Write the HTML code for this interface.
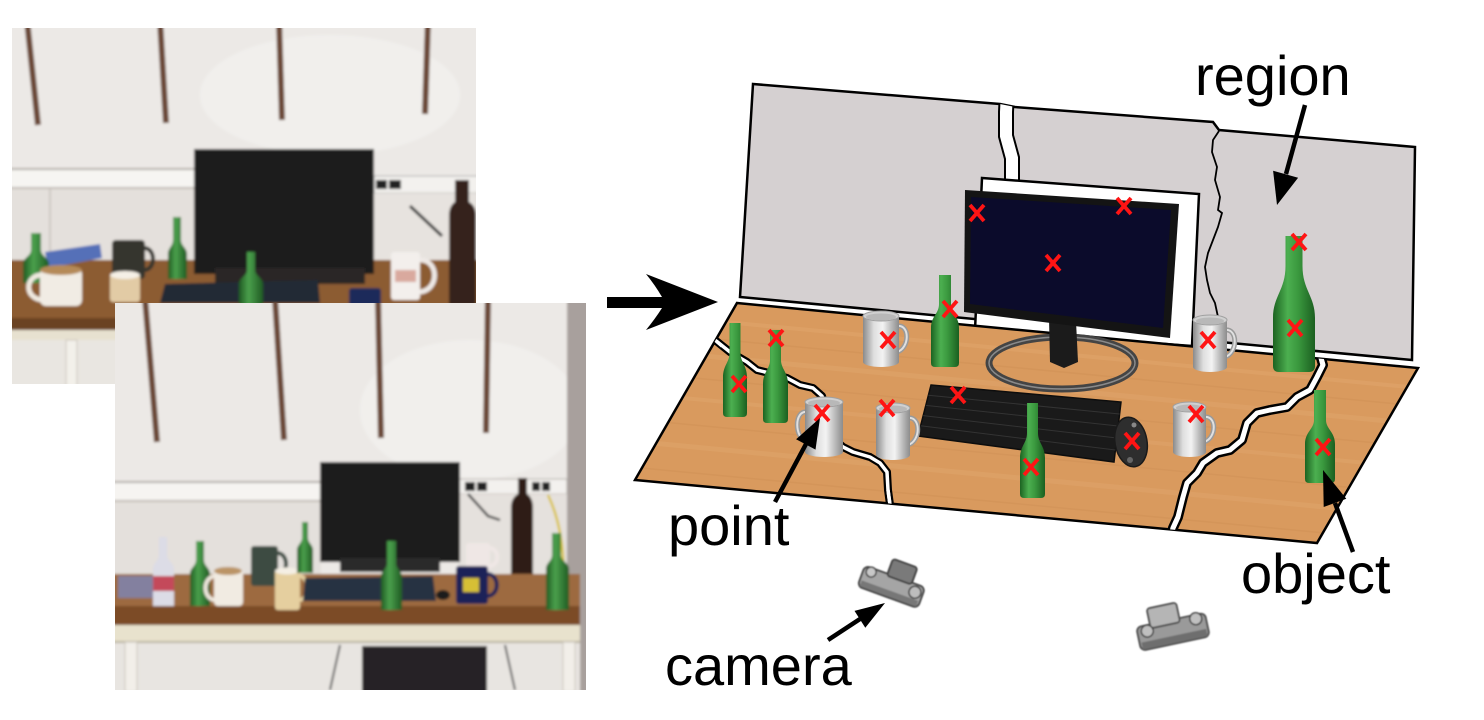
<!DOCTYPE html>
<html><head><meta charset="utf-8">
<style>
html,body{margin:0;padding:0;background:#fff;}
svg{display:block;}
text{font-family:"Liberation Sans",Arial,sans-serif;fill:#000;}
</style></head><body>
<svg width="1484" height="720" viewBox="0 0 1484 720" xmlns="http://www.w3.org/2000/svg">
<defs>
 <linearGradient id="gb" x1="0" x2="1" y1="0" y2="0">
  <stop offset="0" stop-color="#1c6321"/><stop offset="0.35" stop-color="#4caf50"/><stop offset="0.6" stop-color="#3a983e"/><stop offset="1" stop-color="#1b5f20"/>
 </linearGradient>
 <linearGradient id="gm" x1="0" x2="1" y1="0" y2="0">
  <stop offset="0" stop-color="#8a8a8a"/><stop offset="0.3" stop-color="#dedede"/><stop offset="0.55" stop-color="#f3f3f3"/><stop offset="0.8" stop-color="#b8b8b8"/><stop offset="1" stop-color="#8c8c8c"/>
 </linearGradient>
 <linearGradient id="gpb" x1="0" x2="1" y1="0" y2="0">
  <stop offset="0" stop-color="#1f5a22"/><stop offset="0.4" stop-color="#4aa04c"/><stop offset="1" stop-color="#1f5a22"/>
 </linearGradient>
 <clipPath id="ctable"><polygon points="737,303 1418,368 1317,543 635,480"/></clipPath>
 <clipPath id="cwall"><polygon points="753,84 1000,104 1015,107 1213,122 1219,130 1415,147 1412,360 740,297"/></clipPath>
 <clipPath id="cp1"><rect x="12" y="28" width="464" height="356"/></clipPath>
 <clipPath id="cp2"><rect x="115" y="303" width="471" height="387"/></clipPath>
 <filter id="bl" x="-5%" y="-5%" width="110%" height="110%"><feGaussianBlur stdDeviation="1.3"/></filter>
 <filter id="bl2"><feGaussianBlur stdDeviation="0.8"/></filter>
</defs>

<!-- ============ PHOTO 1 ============ -->
<g clip-path="url(#cp1)"><g filter="url(#bl)">
 <rect x="0" y="20" width="490" height="380" fill="#ece9e6"/>
 <ellipse cx="330" cy="95" rx="130" ry="60" fill="#f1efec"/>
 <g stroke="#6a4636" stroke-width="6">
  <line x1="27" y1="20" x2="38" y2="125"/>
  <line x1="160" y1="20" x2="166" y2="123"/>
  <line x1="279" y1="20" x2="282" y2="120"/>
  <line x1="428" y1="20" x2="425" y2="114"/>
 </g>
 <rect x="0" y="169" width="194" height="19" fill="#f6f5f2"/>
 <line x1="0" y1="169" x2="194" y2="169" stroke="#b4aea9" stroke-width="2"/>
 <line x1="0" y1="188" x2="194" y2="188" stroke="#c2bcb6" stroke-width="2"/>
 <rect x="0" y="189" width="194" height="75" fill="#e4e0dc"/>
 <line x1="50" y1="189" x2="50" y2="262" stroke="#cdc8c3" stroke-width="2"/>
 <rect x="374" y="176" width="110" height="17" fill="#f3f1ee" stroke="#aaa" stroke-width="1"/>
 <rect x="376" y="180" width="11" height="9" fill="#222"/>
 <rect x="389" y="180" width="12" height="9" fill="#222"/>
 <rect x="374" y="193" width="110" height="72" fill="#e7e3df"/>
 <line x1="410" y1="206" x2="442" y2="236" stroke="#333" stroke-width="3"/>
 <!-- table -->
 <rect x="0" y="260" width="490" height="60" fill="#8c5b31"/>
 <rect x="0" y="318" width="490" height="12" fill="#6b4322"/>
 <rect x="0" y="330" width="490" height="10" fill="#e7e1d0"/>
 <rect x="0" y="340" width="490" height="50" fill="#e9e6e1"/>
 <rect x="66" y="340" width="11" height="50" fill="#f3f0ea" stroke="#c9c3b9"/>
 <rect x="190" y="345" width="100" height="40" fill="#dcd8d2"/>
 <!-- monitor -->
 <rect x="194" y="149" width="180" height="125" fill="#1d1a1a"/>
 <rect x="215" y="268" width="150" height="16" fill="#2a2828"/>
 <!-- dark bottle -->
 <path d="M455,180 h14 v22 q7,4 7,14 V305 H449 V216 q0,-10 6,-14 z" fill="#35201a"/>
 <!-- objects -->
 <polygon points="45,252 100,244 102,258 48,268" fill="#5570b8"/>
 <path d="M31,233 L41,233 L41,250 C41,256 49,258 49,264 L49,283 L23,283 L23,264 C23,258 31,256 31,250 Z" fill="url(#gpb)"/>
 <path d="M42,275 C24,275 24,300 44,300" stroke="#efe9e0" stroke-width="5" fill="none"/>
 <rect x="40" y="268" width="42" height="38" rx="6" fill="#f1ece4"/>
 <ellipse cx="61" cy="270" rx="21" ry="5" fill="#b58a58"/>
 <rect x="112" y="240" width="33" height="39" rx="4" fill="#35352f"/>
 <path d="M144,248 C156,248 156,270 144,270" stroke="#35352f" stroke-width="4" fill="none"/>
 <rect x="110" y="274" width="30" height="28" rx="3" fill="#e2cba5"/>
 <ellipse cx="125" cy="275" rx="15" ry="4" fill="#f5f0e6"/>
 <path d="M173,217 L181,217 L181,240 C181,246 187,248 187,254 L187,279 L168,279 L168,254 C168,248 173,246 173,240 Z" fill="url(#gpb)"/>
 <polygon points="165,284 318,280 320,303 160,303" fill="#242a34"/>
 <path d="M247,252 L255,252 L255,270 C255,276 263,278 263,284 L263,305 L239,305 L239,284 C239,278 247,276 247,270 Z" fill="url(#gpb)"/>
 <path d="M418,260 C440,258 440,292 418,292" stroke="#eee9e6" stroke-width="5" fill="none"/>
 <rect x="391" y="252" width="29" height="48" rx="3" fill="#f3efec"/>
 <rect x="395" y="270" width="21" height="12" fill="#c87a6a" opacity="0.6"/>
 <rect x="349" y="288" width="32" height="20" rx="3" fill="#1d2a5a"/>
</g></g>

<!-- ============ PHOTO 2 ============ -->
<g clip-path="url(#cp2)"><g filter="url(#bl)">
 <rect x="110" y="298" width="481" height="397" fill="#ece9e6"/>
 <ellipse cx="470" cy="410" rx="110" ry="70" fill="#f1efec"/>
 <rect x="567" y="298" width="25" height="397" fill="#a8a09d"/>
 <g stroke="#6a4636" stroke-width="6">
  <line x1="145" y1="298" x2="157" y2="442"/>
  <line x1="275" y1="298" x2="284" y2="440"/>
  <line x1="378" y1="298" x2="381" y2="438"/>
  <line x1="488" y1="298" x2="486" y2="433"/>
 </g>
 <rect x="110" y="482" width="211" height="20" fill="#f6f4f1"/>
 <line x1="110" y1="482" x2="321" y2="482" stroke="#b4aea9" stroke-width="2"/>
 <line x1="110" y1="501" x2="321" y2="501" stroke="#c2bcb6" stroke-width="2"/>
 <rect x="110" y="502" width="211" height="75" fill="#e4e0dc"/>
 <rect x="458" y="479" width="109" height="15" fill="#f3f1ee" stroke="#b0aaa5" stroke-width="1"/>
 <rect x="465" y="482" width="10" height="9" fill="#222"/>
 <rect x="477" y="482" width="10" height="9" fill="#222"/>
 <rect x="532" y="482" width="8" height="9" fill="#222"/>
 <rect x="542" y="482" width="8" height="9" fill="#222"/>
 <rect x="458" y="494" width="109" height="82" fill="#e5e1dd"/>
 <path d="M468,494 L488,516 L500,520" stroke="#444" stroke-width="2.5" fill="none"/>
 <path d="M548,495 C560,520 568,560 560,600" stroke="#d9c238" stroke-width="2.5" fill="none"/>
 <rect x="320" y="462" width="140" height="100" fill="#1d1a1c"/>
 <rect x="340" y="558" width="100" height="14" fill="#2a2a2a"/>
 <path d="M518,478 h9 v16 q6,4 6,14 V576 H511 V508 q0,-10 7,-14 z" fill="#2f1d17"/>
 <!-- table -->
 <rect x="110" y="574" width="470" height="33" fill="#9d6b3f"/>
 <rect x="110" y="606" width="470" height="19" fill="#7b4b25"/>
 <rect x="110" y="625" width="470" height="17" fill="#e8e2cd"/>
 <line x1="110" y1="642" x2="580" y2="642" stroke="#b9b2a0" stroke-width="2"/>
 <rect x="110" y="643" width="470" height="52" fill="#e8e5e1"/>
 <rect x="125" y="642" width="12" height="50" fill="#f2efe9" stroke="#c8c2b8"/>
 <rect x="563" y="642" width="12" height="50" fill="#f2efe9" stroke="#c8c2b8"/>
 <rect x="362" y="646" width="125" height="48" fill="#262426"/>
 <path d="M340,645 L330,690 M505,645 L515,690" stroke="#555" stroke-width="2"/>
 <!-- objects -->
 <rect x="118" y="576" width="42" height="22" fill="#7d86b8" opacity="0.8"/>
 <path d="M159,537 L167,537 L167,555 C167,561 174,563 174,569 L174,606 L153,606 L153,569 C153,563 159,561 159,555 Z" fill="#dcdce6"/>
 <rect x="153" y="576" width="21" height="15" fill="#c44a5a"/>
 <path d="M196,541 L204,541 L204,560 C204,566 210,568 210,574 L210,606 L190,606 L190,574 C190,568 196,566 196,560 Z" fill="url(#gpb)"/>
 <path d="M216,576 C202,576 202,600 216,600" stroke="#eee7dd" stroke-width="4" fill="none"/>
 <rect x="214" y="569" width="29" height="37" rx="4" fill="#f1ebe2"/>
 <ellipse cx="228" cy="571" rx="14" ry="4" fill="#bb9466"/>
 <rect x="251" y="546" width="27" height="40" rx="3" fill="#3e4b42"/>
 <path d="M277,553 C289,553 289,575 277,575" stroke="#3e4b42" stroke-width="4" fill="none"/>
 <path d="M299,576 C310,576 310,600 299,600" stroke="#e5cf9f" stroke-width="4" fill="none"/>
 <rect x="275" y="570" width="25" height="40" rx="3" fill="#e5cf9f"/>
 <ellipse cx="287" cy="571" rx="12" ry="3.5" fill="#f4efe4"/>
 <path d="M302,522 L308,522 L308,538 C308,543 313,545 313,550 L313,573 L297,573 L297,550 C297,545 302,543 302,538 Z" fill="url(#gpb)"/>
 <polygon points="305,578 433,576 436,601 303,601" fill="#283042"/>
 <path d="M387,541 L396,541 L396,563 C396,569 402,571 402,577 L402,610 L381,610 L381,577 C381,571 387,569 387,563 Z" fill="url(#gpb)"/>
 <ellipse cx="443" cy="595" rx="7" ry="5" fill="#1f1f1f"/>
 <path d="M489,548 C500,548 500,566 489,566" stroke="#efe7e5" stroke-width="4" fill="none"/>
 <rect x="466" y="543" width="24" height="29" rx="3" fill="#efe7e5"/>
 <path d="M487,574 C500,574 500,596 487,596" stroke="#1c2458" stroke-width="4" fill="none"/>
 <rect x="456" y="566" width="32" height="38" rx="3" fill="#1c2458"/>
 <rect x="463" y="578" width="16" height="14" fill="#d6bf35"/>
 <path d="M552,533 L561,533 L561,555 C561,561 569,563 569,569 L569,610 L546,610 L546,569 C546,563 552,561 552,555 Z" fill="url(#gpb)"/>
</g></g>

<!-- ============ BIG ARROW ============ -->
<path d="M607,297 L662,297 Q655,285 646,274 L718,302 L646,330 Q655,319 662,308 L607,308 Z" fill="#000"/>

<!-- ============ WALL ============ -->
<polygon points="753,84 1000,104 1015,107 1213,122 1219,130 1415,147 1412,360 740,297" fill="#d5d0d1" stroke="#000" stroke-width="2.5" stroke-linejoin="miter"/>
<g clip-path="url(#cwall)">
 <path d="M1007,92 L1006,112 L1006,136 L1012,158 L1012,186" stroke="#000" stroke-width="16" fill="none"/>
 <path d="M1007,92 L1006,112 L1006,136 L1012,158 L1012,186" stroke="#fff" stroke-width="12" fill="none"/>
</g>
<polyline points="1219,131 1213,140 1212,152 1217,167 1215,180 1220,197 1218,210 1222,213 1218,227 1213,240 1208,253 1205,267 1207,280 1210,293 1215,303 1218,317" fill="none" stroke="#000" stroke-width="1.8"/>

<!-- monitor backing -->
<polygon points="982,178 1199,194 1192,346 975,330" fill="#fff" stroke="#000" stroke-width="2.5"/>

<!-- ============ TABLE ============ -->
<polygon points="737,303 1418,368 1317,543 635,480" fill="#d99a5e"/>
<g clip-path="url(#ctable)">
 <g stroke-linecap="round">
  <line x1="620" y1="312" x2="1430" y2="389" stroke="#e3ab72" stroke-width="4" opacity="0.4"/>
  <line x1="620" y1="330" x2="1430" y2="407" stroke="#c98a52" stroke-width="1.5" opacity="0.3"/>
  <line x1="620" y1="348" x2="1430" y2="425" stroke="#e3ab72" stroke-width="5" opacity="0.35"/>
  <line x1="620" y1="371" x2="1430" y2="448" stroke="#c98a52" stroke-width="1.5" opacity="0.3"/>
  <line x1="620" y1="392" x2="1430" y2="469" stroke="#e3ab72" stroke-width="4" opacity="0.35"/>
  <line x1="620" y1="418" x2="1430" y2="495" stroke="#c98a52" stroke-width="1.5" opacity="0.3"/>
  <line x1="620" y1="440" x2="1430" y2="517" stroke="#e3ab72" stroke-width="5" opacity="0.35"/>
  <line x1="620" y1="466" x2="1430" y2="543" stroke="#c98a52" stroke-width="1.5" opacity="0.3"/>
  <line x1="620" y1="490" x2="1430" y2="567" stroke="#e3ab72" stroke-width="4" opacity="0.35"/>
  <line x1="620" y1="515" x2="1430" y2="592" stroke="#c98a52" stroke-width="1.5" opacity="0.3"/>
 </g>
 <path d="M706,332 L715,340 L730,352 L747,362 L757,370 L765,372 L787,378 L800,385 L813,388 L822,396 L835,440 L843,447 L853,452 L870,457 L880,463 L887,472 L888,490 L891,512" fill="none" stroke="#000" stroke-width="8" stroke-linejoin="round"/>
 <path d="M706,332 L715,340 L730,352 L747,362 L757,370 L765,372 L787,378 L800,385 L813,388 L822,396 L835,440 L843,447 L853,452 L870,457 L880,463 L887,472 L888,490 L891,512" fill="none" stroke="#fff" stroke-width="3.5" stroke-linejoin="round"/>
 <path d="M1324,345 L1321,358 L1323,365 L1317,377 L1310,390 L1297,397 L1287,407 L1270,410 L1257,413 L1247,423 L1242,440 L1230,450 L1217,453 L1203,463 L1197,473 L1187,483 L1183,497 L1178,517 L1173,528 L1168,548" fill="none" stroke="#000" stroke-width="10" stroke-linejoin="round"/>
 <path d="M1324,345 L1321,358 L1323,365 L1317,377 L1310,390 L1297,397 L1287,407 L1270,410 L1257,413 L1247,423 L1242,440 L1230,450 L1217,453 L1203,463 L1197,473 L1187,483 L1183,497 L1178,517 L1173,528 L1168,548" fill="none" stroke="#fff" stroke-width="5" stroke-linejoin="round"/>
</g>
<polygon points="737,303 1418,368 1317,543 635,480" fill="none" stroke="#000" stroke-width="2.5"/>
<g clip-path="url(#ctable)">
 <path d="M706,332 L715,340 L722,346" fill="none" stroke="#fff" stroke-width="3.5"/>
 <path d="M888,490 L891,512" fill="none" stroke="#fff" stroke-width="3.5"/>
 <path d="M1324,345 L1321,358 L1323,365" fill="none" stroke="#fff" stroke-width="5"/>
 <path d="M1178,517 L1173,528 L1168,548" fill="none" stroke="#fff" stroke-width="5"/>
</g>

<!-- ============ MONITOR ============ -->
<ellipse cx="1062" cy="363" rx="73" ry="26" fill="none" stroke="#444" stroke-width="7"/>
<ellipse cx="1062" cy="363" rx="73" ry="26" fill="none" stroke="#8a8a8a" stroke-width="1.5"/>
<polygon points="1049,318 1076,321 1078,362 1064,368 1050,362" fill="#1b1b1b"/>
<polygon points="965,190 1179,204 1170,338 964,312" fill="#141414"/>
<polygon points="971,197 1171,210 1163,328 970,304" fill="#0b0b2b"/>

<!-- ============ OBJECTS ============ -->
<polygon points="931,385 1121,402 1114,462 918,436" fill="#1a1a1a" stroke="#0d0d0d" stroke-width="1.5"/>
<g stroke="#333" stroke-width="1">
 <line x1="928.4" y1="395.2" x2="1119.6" y2="414"/>
 <line x1="925.8" y1="405.4" x2="1118.2" y2="426"/>
 <line x1="923.2" y1="415.6" x2="1116.8" y2="438"/>
 <line x1="920.6" y1="425.8" x2="1115.4" y2="450"/>
</g>
<ellipse cx="1131" cy="442" rx="16" ry="25" fill="#2e2e2e" stroke="#1a1a1a" stroke-width="1.5" transform="rotate(-10 1131 442)"/>
<circle cx="1134" cy="425" r="2.5" fill="#888"/>
<circle cx="1130" cy="460" r="3" fill="#666"/>

<path d="M729.5,323 L740.5,323 L740.5,353 C740.5,362.5 747,365.3 747,377.5 L747,413 Q747,417 743,417 L727,417 Q723,417 723,413 L723,377.5 C723,365.3 729.5,362.5 729.5,353 Z" fill="url(#gb)"/>
<path d="M770,330 L781,330 L781,360 C781,369 788,372 788,384 L788,419 Q788,423 784,423 L767,423 Q763,423 763,419 L763,384 C763,372 770,369 770,360 Z" fill="url(#gb)"/>
<path d="M939,275 L951,275 L951,304 C951,314 959,316 959,328 L959,363 Q959,367 955,367 L935,367 Q931,367 931,363 L931,328 C931,316 939,314 939,304 Z" fill="url(#gb)"/>
<path d="M1285.5,236 L1302.5,236 L1302.5,266 C1302.5,290 1315,296 1315,318 L1315,366 Q1315,372 1309,372 L1279,372 Q1273,372 1273,366 L1273,318 C1273,296 1285.5,290 1285.5,266 Z" fill="url(#gb)"/>

<g>
 <path d="M897,326 C910,324 910,348 897,352" stroke="#9a9a9a" stroke-width="5" fill="none"/>
 <path d="M897,326 C910,324 910,348 897,352" stroke="#e0e0e0" stroke-width="2" fill="none"/>
 <path d="M863,316 L863,362 A18,5 0 0 0 899,362 L899,316 Z" fill="url(#gm)"/>
 <ellipse cx="881" cy="316" rx="18" ry="5" fill="#d0d0d0" stroke="#a0a0a0"/>
 <ellipse cx="881" cy="317" rx="15" ry="3.5" fill="#b8b8b8"/>
</g>
<g>
 <path d="M1225,330 C1238,328 1238,353 1225,357" stroke="#9a9a9a" stroke-width="5" fill="none"/>
 <path d="M1225,330 C1238,328 1238,353 1225,357" stroke="#e0e0e0" stroke-width="2" fill="none"/>
 <path d="M1193,320 L1193,367 A17,5 0 0 0 1227,367 L1227,320 Z" fill="url(#gm)"/>
 <ellipse cx="1210" cy="320" rx="17" ry="5" fill="#d0d0d0" stroke="#a0a0a0"/>
 <ellipse cx="1210" cy="321" rx="14" ry="3.5" fill="#b8b8b8"/>
</g>
<g>
 <path d="M807,412 C794,410 794,438 807,442" stroke="#9a9a9a" stroke-width="5" fill="none"/>
 <path d="M807,412 C794,410 794,438 807,442" stroke="#e0e0e0" stroke-width="2" fill="none"/>
 <path d="M805,402 L805,452 A19,5 0 0 0 843,452 L843,402 Z" fill="url(#gm)"/>
 <ellipse cx="824" cy="402" rx="19" ry="5" fill="#d0d0d0" stroke="#a0a0a0"/>
 <ellipse cx="824" cy="403" rx="16" ry="3.5" fill="#b8b8b8"/>
</g>
<g>
 <path d="M908,418 C921,416 921,441 908,445" stroke="#9a9a9a" stroke-width="5" fill="none"/>
 <path d="M908,418 C921,416 921,441 908,445" stroke="#e0e0e0" stroke-width="2" fill="none"/>
 <path d="M876,408 L876,455 A17,5 0 0 0 910,455 L910,408 Z" fill="url(#gm)"/>
 <ellipse cx="893" cy="408" rx="17" ry="5" fill="#d0d0d0" stroke="#a0a0a0"/>
 <ellipse cx="893" cy="409" rx="14" ry="3.5" fill="#b8b8b8"/>
</g>
<g>
 <path d="M1204,417 C1217,415 1217,438 1204,442" stroke="#9a9a9a" stroke-width="5" fill="none"/>
 <path d="M1204,417 C1217,415 1217,438 1204,442" stroke="#e0e0e0" stroke-width="2" fill="none"/>
 <path d="M1173,407 L1173,452 A16.5,5 0 0 0 1206,452 L1206,407 Z" fill="url(#gm)"/>
 <ellipse cx="1189.5" cy="407" rx="16.5" ry="5" fill="#d0d0d0" stroke="#a0a0a0"/>
 <ellipse cx="1189.5" cy="408" rx="13.5" ry="3.5" fill="#b8b8b8"/>
</g>

<path d="M1027,403 L1038,403 L1038,433 C1038,443 1045,446 1045,458 L1045,494 Q1045,498 1041,498 L1024,498 Q1020,498 1020,494 L1020,458 C1020,446 1027,443 1027,433 Z" fill="url(#gb)"/>
<path d="M1314,390 L1326,390 L1326,420 C1326,429 1335,432 1335,444 L1335,479 Q1335,483 1331,483 L1309,483 Q1305,483 1305,479 L1305,444 C1305,432 1314,429 1314,420 Z" fill="url(#gb)"/>

<path d="M970,205L984,221M984,205L970,221 M1117,198L1131,214M1131,198L1117,214 M1046,255L1060,271M1060,255L1046,271 M1292,234L1306,250M1306,234L1292,250 M1288,320L1302,336M1302,320L1288,336 M943,301L957,317M957,301L943,317 M881,332L895,348M895,332L881,348 M1201,332L1215,348M1215,332L1201,348 M769,330L783,346M783,330L769,346 M732,376L746,392M746,376L732,392 M815,405L829,421M829,405L815,421 M880,400L894,416M894,400L880,416 M951,387L965,403M965,387L951,403 M1024,459L1038,475M1038,459L1024,475 M1125,433L1139,449M1139,433L1125,449 M1189,406L1203,422M1203,406L1189,422 M1316,439L1330,455M1330,439L1316,455" stroke="#ff1414" stroke-width="3.8" fill="none"/>

<!-- ============ CAMERAS ============ -->
<g filter="url(#bl2)">
 <g transform="rotate(20 892 585)">
  <rect x="860" y="576" width="64" height="22" rx="5" fill="#a5a5a5" stroke="#4a4a4a" stroke-width="2"/>
  <rect x="862" y="591" width="60" height="6" fill="#777"/>
  <rect x="884" y="560" width="26" height="18" rx="3" fill="#7a7a7a" stroke="#444" stroke-width="2"/>
  <circle cx="868" cy="580" r="5" fill="#c8c8c8" stroke="#444" stroke-width="1.5"/>
  <circle cx="916" cy="584" r="6" fill="#bdbdbd" stroke="#444" stroke-width="1.5"/>
 </g>
 <g transform="rotate(-12 1172 632)">
  <rect x="1138" y="620" width="70" height="24" rx="5" fill="#9a9a9a" stroke="#555" stroke-width="2"/>
  <rect x="1140" y="636" width="66" height="7" fill="#6e6e6e"/>
  <rect x="1152" y="604" width="30" height="20" rx="3" fill="#b5b5b5" stroke="#555" stroke-width="2"/>
  <circle cx="1148" cy="626" r="6" fill="#c0c0c0" stroke="#444" stroke-width="1.5"/>
  <circle cx="1198" cy="624" r="6" fill="#c0c0c0" stroke="#444" stroke-width="1.5"/>
 </g>
</g>

<!-- ============ LABEL ARROWS ============ -->
<g stroke="#000" stroke-width="4.5">
 <line x1="1305" y1="105" x2="1286" y2="174"/>
 <line x1="775" y1="502" x2="806" y2="444"/>
 <line x1="828" y1="640" x2="860" y2="619"/>
 <line x1="1353" y1="552" x2="1335" y2="503"/>
</g>
<polygon points="1277,205 1273.1,170.7 1298.1,177.7" fill="#000"/>
<polygon points="820,418 815.5,449.6 796.1,439.2" fill="#000"/>
<polygon points="885,603 865.3,627.7 854.5,610.9" fill="#000"/>
<polygon points="1323,470 1346.3,498.8 1323.7,507" fill="#000"/>

<!-- ============ LABELS ============ -->
<text x="1195" y="95" font-size="56">region</text>
<text x="668" y="545" font-size="56">point</text>
<text x="665" y="685" font-size="56">camera</text>
<text x="1241" y="593" font-size="56">object</text>
</svg>
</body></html>
